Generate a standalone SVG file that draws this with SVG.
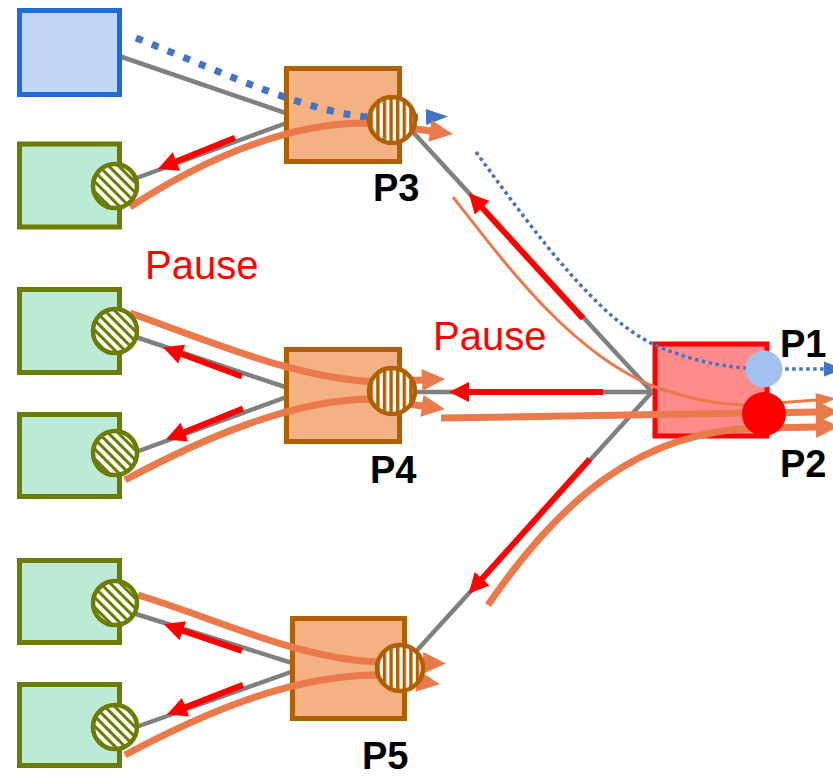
<svg xmlns="http://www.w3.org/2000/svg" width="833" height="776" viewBox="0 0 833 776">
  <style>
    .host { fill: #bbead5; stroke: #6b7c00; stroke-width: 5; }
    .src { fill: #c0d6f4; stroke: #1f6bd8; stroke-width: 5; }
    .sw { fill: #f4b183; stroke: #b25f00; stroke-width: 5; }
    .core { fill: #ff8b8b; stroke: #ff0000; stroke-width: 5; }
    .link { fill: none; stroke: #808080; stroke-width: 4.5; }
    .flow { fill: none; stroke: #ea7a4b; stroke-width: 7; marker-end: url(#headOrange); }
    .flow-thin { fill: none; stroke: #ea7a4b; stroke-width: 3; marker-end: url(#headOrangeThin); }
    .victim { fill: none; stroke: #4472c4; stroke-width: 7; stroke-dasharray: 7 10; marker-end: url(#headBlue); }
    .victim-thin { fill: none; stroke: #4472c4; stroke-width: 3.5; stroke-dasharray: 3.5 3.5; marker-end: url(#headBlueThin); }
    .pause { fill: none; stroke: #ff0000; stroke-width: 6; marker-end: url(#headRed); }
    .hport { fill: url(#hatchGreen); stroke: #6b7c00; stroke-width: 4.5; }
    .sport { fill: url(#hatchBrown); stroke: #b25f00; stroke-width: 4.5; }
    .plabel { font-family: "Liberation Sans", Arial, sans-serif; font-weight: bold; font-size: 38px; fill: #000; }
    .ptext { font-family: "Liberation Sans", Arial, sans-serif; font-size: 40px; fill: #ff0000; }
  </style>
  <defs>
    <pattern id="hatchGreen" width="7" height="7" patternUnits="userSpaceOnUse" patternTransform="rotate(-45)">
      <rect width="7" height="7" fill="#ffffff"/>
      <rect width="3" height="7" fill="#6b7c00"/>
    </pattern>
    <pattern id="hatchBrown" width="6.6" height="6.6" patternUnits="userSpaceOnUse">
      <rect width="6.6" height="6.6" fill="#ffffff"/>
      <rect width="3.4" height="6.6" fill="#b25f00"/>
    </pattern>
    <marker id="headRed" markerUnits="userSpaceOnUse" markerWidth="22" markerHeight="22" refX="1" refY="10" orient="auto" overflow="visible">
      <path d="M0,0 L20,10 L0,20 Z" fill="#ff0000"/>
    </marker>
    <marker id="headOrange" markerUnits="userSpaceOnUse" markerWidth="25" markerHeight="24" refX="1" refY="11" orient="auto" overflow="visible">
      <path d="M0,0 L23,11 L0,22 Z" fill="#ea7a4b"/>
    </marker>
    <marker id="headOrangeThin" markerUnits="userSpaceOnUse" markerWidth="22" markerHeight="16" refX="1" refY="7" orient="auto" overflow="visible">
      <path d="M0,0 L20,7 L0,14 Z" fill="#ea7a4b"/>
    </marker>
    <marker id="headBlue" markerUnits="userSpaceOnUse" markerWidth="24" markerHeight="18" refX="1" refY="8" orient="auto" overflow="visible">
      <path d="M0,0 L22,8 L0,16 Z" fill="#4472c4"/>
    </marker>
    <marker id="headBlueThin" markerUnits="userSpaceOnUse" markerWidth="22" markerHeight="16" refX="1" refY="7.5" orient="auto" overflow="visible">
      <path d="M0,0 L20,7.5 L0,15 Z" fill="#4472c4"/>
    </marker>
  </defs>

  <!-- physical links -->
  <g id="links">
    <path class="link" d="M119,56 L300,118"/>
    <path class="link" d="M300,118 L115,186"/>
    <path class="link" d="M400,118 L652,392"/>
    <path class="link" d="M652,392 L392,392"/>
    <path class="link" d="M652,392 L400,669"/>
    <path class="link" d="M300,392 L115,330"/>
    <path class="link" d="M300,392 L125,456"/>
    <path class="link" d="M305,667 L120,609"/>
    <path class="link" d="M305,667 L125,731"/>
  </g>

  <!-- hosts and switches -->
  <g id="src-host"><rect class="src" x="19.5" y="10.5" width="100" height="84"/></g>
  <g id="host-1"><rect class="host" x="19.5" y="144" width="100" height="83"/></g>
  <g id="host-2"><rect class="host" x="19.5" y="289.5" width="100" height="83"/></g>
  <g id="host-3"><rect class="host" x="19.5" y="414.5" width="100" height="82"/></g>
  <g id="host-4"><rect class="host" x="19.5" y="560.5" width="100" height="82"/></g>
  <g id="host-5"><rect class="host" x="19.5" y="684.5" width="100" height="81"/></g>
  <g id="switch-p3"><rect class="sw" x="286.5" y="68.5" width="113" height="93"/></g>
  <g id="switch-p4"><rect class="sw" x="286.5" y="349.5" width="113" height="92"/></g>
  <g id="switch-p5"><rect class="sw" x="292.5" y="618.5" width="112" height="100"/></g>
  <g id="switch-core"><rect class="core" x="655" y="344" width="112" height="92"/></g>

  <!-- traffic flows -->
  <g id="flows">
    <path class="victim" d="M136,38 C230,75 310,115 380,118 L427,117"/>
    <path class="victim-thin" d="M476,152 C540,240 600,320 655,345 C700,365 740,369 770,369 L825,369"/>
    <path class="flow-thin" d="M453,197 C510,270 570,350 650,385 C690,400 720,405 750,405 L817,400"/>
    <path class="flow" d="M441,418 L817,412"/>
    <path class="flow" d="M488,605 C560,500 640,430 760,428 L817,427"/>
    <path class="flow" d="M130,207 C210,155 300,118 380,124 L431,131"/>
    <path class="flow" d="M130,313 C220,345 300,380 380,382 L423,380"/>
    <path class="flow" d="M125,480 C200,440 290,400 370,399 L423,406"/>
    <path class="flow" d="M138,595 C220,620 300,660 380,662 L424,663"/>
    <path class="flow" d="M125,755 C200,715 290,675 377,675 L418,681"/>
  </g>

  <!-- ports -->
  <g id="ports">
    <circle class="hport" cx="115" cy="186" r="22"/>
    <circle class="hport" cx="115" cy="331" r="22"/>
    <circle class="hport" cx="115" cy="453" r="22"/>
    <circle class="hport" cx="115" cy="603" r="22"/>
    <circle class="hport" cx="115" cy="727" r="22"/>
    <circle class="sport" cx="392" cy="120" r="23"/>
    <circle class="sport" cx="392" cy="391" r="23"/>
    <circle class="sport" cx="400" cy="668" r="23"/>
    <circle id="port-p1" cx="764" cy="369" r="18.5" fill="#a3c1ee"/>
    <circle id="port-p2" cx="764" cy="414" r="22" fill="#ff0000"/>
  </g>

  <!-- PAUSE frames -->
  <g id="pause-frames">
    <path class="pause" d="M235,137.8 L175.5,161.8"/>
    <path class="pause" d="M242,376.5 L180.8,353.8"/>
    <path class="pause" d="M243,408.5 L183.5,432.5"/>
    <path class="pause" d="M242,650.9 L181.9,630.4"/>
    <path class="pause" d="M243,684.9 L184.6,707.6"/>
    <path class="pause" d="M583,318.5 L481.5,207.1"/>
    <path class="pause" d="M603,392 L468,392"/>
    <path class="pause" d="M589.8,459 L481.4,579.5"/>
  </g>

  <!-- labels -->
  <g id="labels">
    <text class="ptext" x="145" y="279">Pause</text>
    <text class="ptext" x="433" y="350">Pause</text>
    <text class="plabel" x="373" y="201">P3</text>
    <text class="plabel" x="370" y="483">P4</text>
    <text class="plabel" x="362" y="769">P5</text>
    <text class="plabel" x="780" y="357">P1</text>
    <text class="plabel" x="780" y="477">P2</text>
  </g>
</svg>
